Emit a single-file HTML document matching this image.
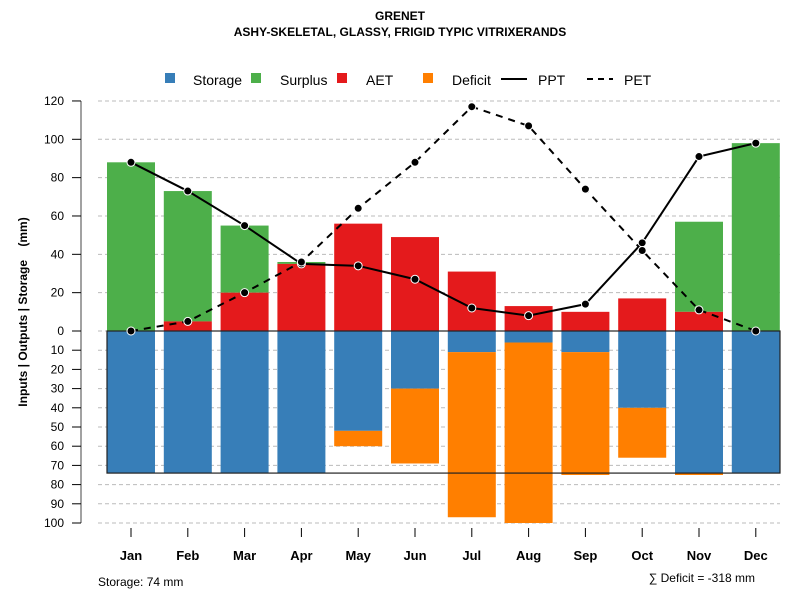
<!DOCTYPE html>
<html><head><meta charset="utf-8"><style>
body{margin:0;background:#fff}
svg{display:block;font-family:"Liberation Sans",Arial,sans-serif}
</style></head><body>
<svg id="c" width="800" height="600">
<text x="400" y="20" text-anchor="middle" font-size="12" font-weight="bold">GRENET</text>
<text x="400" y="36" text-anchor="middle" font-size="12" font-weight="bold">ASHY-SKELETAL, GLASSY, FRIGID TYPIC VITRIXERANDS</text>
<g id="legend" font-size="14">
<rect x="165" y="73" width="10" height="10" fill="#377eb8"/>
<text x="193" y="85">Storage</text>
<rect x="251" y="73" width="10" height="10" fill="#4daf4a"/>
<text x="280" y="85">Surplus</text>
<rect x="337" y="73" width="10" height="10" fill="#e41a1c"/>
<text x="366" y="85">AET</text>
<rect x="423" y="73" width="10" height="10" fill="#ff7f00"/>
<text x="452" y="85">Deficit</text>
<line x1="501" y1="79" x2="527" y2="79" stroke="#000" stroke-width="2"/>
<text x="538" y="85">PPT</text>
<line x1="587" y1="79" x2="613" y2="79" stroke="#000" stroke-width="2" stroke-dasharray="6,5"/>
<text x="624" y="85">PET</text>
</g>
<text transform="translate(27,312) rotate(-90)" text-anchor="middle" font-size="12" font-weight="bold" style="white-space:pre">Inputs | Outputs | Storage    (mm)</text>
<text x="98" y="586" font-size="12">Storage: 74 mm</text>
<text x="755" y="582" text-anchor="end" font-size="12">∑ Deficit = -318 mm</text>
</svg>
<script>
const months=["Jan","Feb","Mar","Apr","May","Jun","Jul","Aug","Sep","Oct","Nov","Dec"];
const surplusTop=[88,73,55,36,0,0,0,0,0,0,57,98];
const aet=[0,5,20,35,56,49,31,13,10,17,10,0];
const storage=[74,74,74,74,52,30,11,6,11,40,74,74];
const deficit=[0,0,0,0,8,39,86,94,64,26,1,0];
const ppt=[88,73,55,35,34,27,12,8,14,46,91,98];
const pet=[0,5,20,36,64,88,117,107,74,42,11,0];
const upTicks=[0,20,40,60,80,100,120];
const downTicks=[10,20,30,40,50,60,70,80,90,100];
const maxStorage=74;

const svg=document.getElementById('c');
const NS='http://www.w3.org/2000/svg';
const Y0=331;
const yUp=v=>Y0-v*1.917;
const yDn=v=>Y0+v*1.92;
const xC=i=>131+i*56.8;
const BW=48;
function mk(t,a,p){const e=document.createElementNS(NS,t);for(const k in a)e.setAttribute(k,a[k]);(p||svg).appendChild(e);return e;}

const grid=mk('g',{});


const axis=mk('g',{});


mk('line',{x1:81,x2:81,y1:yUp(120),y2:yDn(100),stroke:'#444','stroke-width':1},axis);
upTicks.forEach(v=>{
  const y=yUp(v);
  mk('line',{x1:98,x2:780,y1:y,y2:y,stroke:'#bbb','stroke-dasharray':'4,3'},grid);
  mk('line',{x1:72,x2:81,y1:y,y2:y,stroke:'#000'},axis);
  const t=mk('text',{x:64,y:y+4,'text-anchor':'end','font-size':12},axis);t.textContent=v;
  
  
});
downTicks.forEach(v=>{
  const y=yDn(v);
  mk('line',{x1:98,x2:780,y1:y,y2:y,stroke:'#bbb','stroke-dasharray':'4,3'},grid);
  mk('line',{x1:72,x2:81,y1:y,y2:y,stroke:'#000'},axis);
  const t=mk('text',{x:64,y:y+4,'text-anchor':'end','font-size':12},axis);t.textContent=v;
  
  
});

const bars=mk('g',{});


months.forEach((m,i)=>{
  const x=xC(i)-BW/2;
  if(surplusTop[i]>aet[i]){
    const r=mk('rect',{x:x,width:BW,y:yUp(surplusTop[i]),height:yUp(aet[i])-yUp(surplusTop[i]),fill:'#4daf4a'},bars);
    
    
  }
  if(aet[i]>0){
    const r=mk('rect',{x:x,width:BW,y:yUp(aet[i]),height:Y0-yUp(aet[i]),fill:'#e41a1c'},bars);
    
    
  }
  const s=mk('rect',{x:x,width:BW,y:Y0,height:yDn(storage[i])-Y0,fill:'#377eb8'},bars);
  
  
  if(deficit[i]>0){
    const r=mk('rect',{x:x,width:BW,y:yDn(storage[i]),height:yDn(storage[i]+deficit[i])-yDn(storage[i]),fill:'#ff7f00'},bars);
    
    
  }
  mk('line',{x1:xC(i),x2:xC(i),y1:528,y2:537,stroke:'#000'},axis);
  const t=mk('text',{x:xC(i),y:560,'text-anchor':'middle','font-size':13,'font-weight':'bold'});
  t.textContent=m;
  
  
});
const box=mk('rect',{x:107,y:Y0,width:673,height:yDn(maxStorage)-Y0,fill:'none',stroke:'#222','stroke-width':1.2});



function series(arr,name,dash){
  const g=mk('g',{});
  
  
  const pts=arr.map((v,i)=>xC(i)+','+yUp(v)).join(' ');
  const l=mk('polyline',{points:pts,fill:'none',stroke:'#000','stroke-width':2,'stroke-dasharray':dash||'none'},g);
  
  
  arr.forEach((v,i)=>{
    const c=mk('circle',{cx:xC(i),cy:yUp(v),r:4,fill:'#000',stroke:'#fff','stroke-width':1},g);
    
    
  });
}
series(ppt,'ppt');
series(pet,'pet','7,6');
</script>
</body></html>
